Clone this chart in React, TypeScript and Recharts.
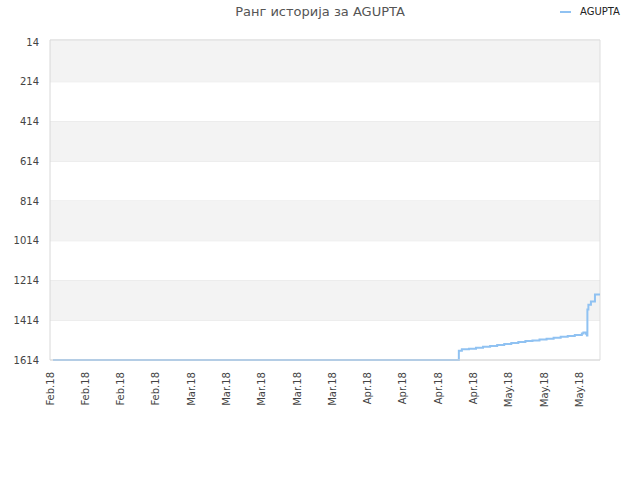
import { LineChart, Line, XAxis, YAxis, CartesianGrid, ReferenceArea, ReferenceLine } from "recharts";

// days counted from Feb 1 2018
const days = [
  0.6, 81.0, 81.1, 81.7, 83.1, 84.5, 85.9, 87.3, 88.7, 90.1, 91.5, 92.9, 94.3, 95.7, 97.1,
  98.5, 99.9, 101.3, 102.7, 104.1, 105.5, 105.8, 106.3, 106.5, 106.6, 106.8, 107.3, 108.1, 109.1,
];
const ranks = [
  1614, 1614, 1567, 1560, 1557, 1552, 1547, 1543, 1538, 1533, 1529, 1524, 1519, 1516, 1511,
  1507, 1502, 1497, 1493, 1488, 1481, 1476, 1482, 1491, 1360, 1336, 1320, 1284, 1284,
];

const tickDays = [0, 7, 14, 21, 28, 35, 42, 49, 56, 63, 70, 77, 84, 91, 98, 105];
const tickLabels = [
  "Feb.18", "Feb.18", "Feb.18", "Feb.18",
  "Mar.18", "Mar.18", "Mar.18", "Mar.18", "Mar.18",
  "Apr.18", "Apr.18", "Apr.18", "Apr.18",
  "May.18", "May.18", "May.18",
];
const rankTicks = [14, 214, 414, 614, 814, 1014, 1214, 1414, 1614];
const bands: [number, number][] = [
  [4, 214],
  [414, 614],
  [814, 1014],
  [1214, 1414],
];

const data = days.map((d, i) => ({ day: d, rank: ranks[i] }));

const font = "'DejaVu Sans', sans-serif";
const lineColor = "#90c2f2";

const XTick = ({ x, y, payload }: any) => {
  const idx = tickDays.indexOf(payload.value);
  return (
    <text
      x={x}
      y={y + 4}
      transform={`rotate(-90 ${x} ${y + 4})`}
      textAnchor="end"
      dy="0.35em"
      fontSize={10}
      fontFamily={font}
      fill="#444"
    >
      {tickLabels[idx]}
    </text>
  );
};

export default function App() {
  return (
    <div style={{ position: "absolute", left: 0, top: 0, width: 640, height: 480, background: "#fff" }}>
      <div
        style={{
          position: "absolute",
          top: 4,
          left: 0,
          width: 640,
          textAlign: "center",
          fontFamily: font,
          fontSize: 13,
          color: "#555",
        }}
      >
        Ранг историја за AGUPTA
      </div>
      <div style={{ position: "absolute", top: 6, left: 560, display: "flex", alignItems: "center", fontFamily: font, fontSize: 10, color: "#222" }}>
        <span style={{ display: "inline-block", width: 11, height: 2, background: lineColor, marginRight: 9 }} />
        AGUPTA
      </div>
      <LineChart width={640} height={480} data={data} margin={{ top: 40, right: 40, left: 0, bottom: 0 }}>
        {bands.map(([a, b], i) => (
          <ReferenceArea key={i} y1={a} y2={b} fill="#f3f3f3" fillOpacity={1} stroke="none" ifOverflow="visible" />
        ))}
        <CartesianGrid vertical={false} stroke="#e4e4e4" />
        <ReferenceLine y={4} stroke="#dddddd" />
        <ReferenceLine x={109.1} stroke="#dddddd" />
        <XAxis
          dataKey="day"
          type="number"
          domain={[0, 109.1]}
          ticks={tickDays}
          tick={<XTick />}
          tickLine={false}
          height={120}
          stroke="#d8d8d8"
          interval={0}
        />
        <YAxis
          type="number"
          reversed
          domain={[4, 1614]}
          ticks={rankTicks}
          width={50}
          tickLine={false}
          tickSize={8}
          tickMargin={3}
          stroke="#d8d8d8"
          tick={{ fontSize: 10, fontFamily: font, fill: "#444" }}
          interval={0}
        />
        <Line
          type="stepAfter"
          dataKey="rank"
          stroke={lineColor}
          strokeWidth={2}
          dot={false}
          isAnimationActive={false}
        />
      </LineChart>
    </div>
  );
}
